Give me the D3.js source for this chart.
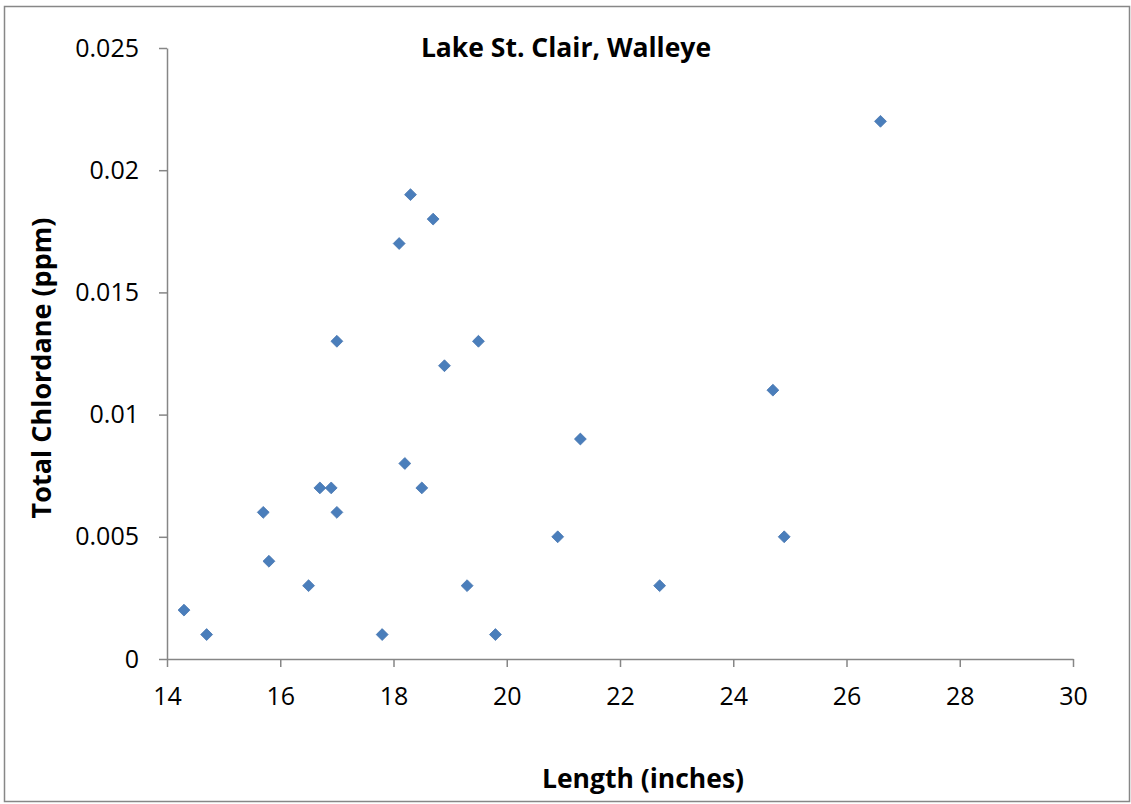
<!DOCTYPE html>
<html><head><meta charset="utf-8">
<script src="https://cdn.jsdelivr.net/npm/d3@7"></script>
<style>body{margin:0;background:#fff;} text{font-family:"Open Sans","Noto Sans",sans-serif;}</style>
</head><body>
<svg id="c" width="1131" height="804"></svg>
<script>
const lengths = [14.3,14.7,15.7,15.8,16.5,16.7,16.9,17.0,17.0,17.8,18.1,18.2,18.3,18.5,18.7,18.9,19.3,19.5,19.8,20.9,21.3,22.7,24.7,24.9,26.6];
const chlordane = [0.002,0.001,0.006,0.004,0.003,0.007,0.007,0.006,0.013,0.001,0.017,0.008,0.019,0.007,0.018,0.012,0.003,0.013,0.001,0.005,0.009,0.003,0.011,0.005,0.022];
const xTicks = [14,16,18,20,22,24,26,28,30];
const yTicks = [0,0.005,0.01,0.015,0.02,0.025];
const yTickLabels = ["0","0.005","0.01","0.015","0.02","0.025"];

const svg = d3.select("#c");
svg.append("rect").attr("x",4.5).attr("y",6.5).attr("width",1125).attr("height",795)
  .attr("fill","#fff").attr("stroke","#878787").attr("stroke-width",1.5);

const x = d3.scaleLinear().domain([14,30]).range([167,1073]);
const y = d3.scaleLinear().domain([0,0.025]).range([659,48]);
const axisColor = "#868686";
const ff = "'Open Sans','Noto Sans',sans-serif";

const gx = svg.append("g").attr("transform","translate(0,659)")
  .call(d3.axisBottom(x).tickValues(xTicks).tickSize(8).tickSizeOuter(0).tickPadding(20).tickFormat(d3.format("d")));
gx.select(".domain").attr("stroke",axisColor).attr("stroke-width",1.5);
gx.selectAll(".tick line").attr("stroke",axisColor).attr("stroke-width",1.5);
gx.selectAll(".tick text").attr("font-size",25).attr("fill","#000").attr("font-family",ff);

const gy = svg.append("g").attr("transform","translate(167,0)")
  .call(d3.axisLeft(y).tickValues(yTicks).tickSize(8).tickSizeOuter(0).tickPadding(20).tickFormat((d,i)=>yTickLabels[i]));
gy.select(".domain").attr("stroke",axisColor).attr("stroke-width",1.5);
gy.selectAll(".tick line").attr("stroke",axisColor).attr("stroke-width",1.5);
gy.selectAll(".tick text").attr("font-size",25).attr("fill","#000").attr("font-family",ff);

const sym = d3.symbol().type(d3.symbolDiamond2).size(90);
svg.append("g").selectAll("path").data(lengths.map((l,i)=>[l,chlordane[i]])).join("path")
  .attr("d",sym).attr("transform",d=>`translate(${x(d[0])},${y(d[1])})`)
  .attr("fill","#4a7ebb").attr("stroke","#4675b0").attr("stroke-width",0.8);

svg.append("text").attr("x",566).attr("y",57).attr("text-anchor","middle")
  .attr("font-size",26.5).attr("font-weight","bold").attr("textLength",null).text("Lake St. Clair, Walleye");
svg.append("text").attr("x",643).attr("y",788).attr("text-anchor","middle")
  .attr("font-size",26.5).attr("font-weight","bold").text("Length (inches)");
svg.append("text").attr("transform","translate(51,368) rotate(-90)").attr("text-anchor","middle")
  .attr("font-size",27).attr("font-weight","bold").text("Total Chlordane (ppm)");
</script>
</body></html>
